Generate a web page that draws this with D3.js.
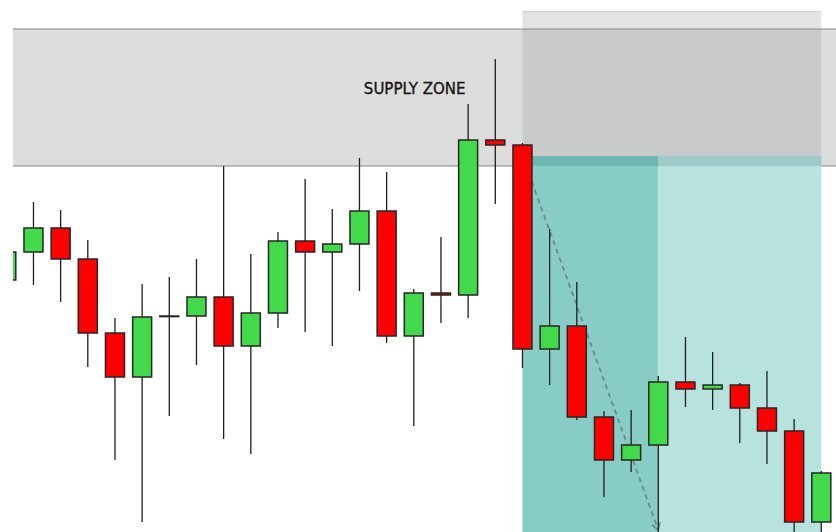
<!DOCTYPE html>
<html>
<head>
<meta charset="utf-8">
<script src="https://cdn.jsdelivr.net/npm/d3@7"></script>
<style>
  html, body { margin: 0; padding: 0; background: #ffffff; }
  svg { display: block; }
</style>
</head>
<body>
<svg id="chart" width="836" height="532"></svg>
<script>
// OHLC prices, one entry per bar
const opens  = [25.2, 28.0, 30.4, 27.3, 19.9, 15.5, 21.6, 21.6, 23.5, 18.6, 21.9, 29.1, 28.0, 28.8, 32.1, 19.6, 23.9, 23.7, 39.2, 38.7, 18.3, 20.6, 11.5, 7.2, 8.7, 15.0, 14.3, 14.7, 12.4, 10.1, 1.0];
const highs  = [29.0, 33.0, 32.2, 29.2, 21.4, 24.8, 25.5, 27.3, 36.6, 27.8, 30.0, 35.3, 32.3, 37.4, 36.0, 24.3, 29.5, 42.8, 47.3, 38.9, 30.3, 25.0, 12.1, 12.2, 15.6, 19.5, 18.0, 14.9, 16.1, 11.3, 6.1];
const lows   = [24.5, 24.7, 23.0, 16.5, 7.2, 1.0, 11.6, 16.7, 9.3, 7.8, 20.4, 20.0, 18.6, 24.1, 18.9, 10.6, 20.9, 21.4, 32.8, 16.4, 14.7, 11.2, 3.5, 6.0, -1.0, 12.5, 12.2, 8.9, 6.8, -1.0, -1.0];
const closes = [28.0, 30.4, 27.3, 19.9, 15.5, 21.5, 21.6, 23.5, 18.6, 21.9, 29.1, 28.0, 28.8, 32.1, 19.6, 23.9, 23.7, 39.2, 38.7, 18.3, 20.6, 11.5, 7.2, 8.7, 15.0, 14.3, 14.7, 12.4, 10.1, 1.0, 5.9];

// Supply zone price band and its label
const supplyZone = [36.6, 50.3];
const supplyLabel = "SUPPLY ZONE";

// Short-position tool: entry bar, target bar, end bar and its price levels
const positionBars = [19, 24, 30];
const stopLevel = 52.1;
const entryLevel = 37.6;
const targetLevel = 0.2;

const W = 836, H = 532;
const svg = d3.select("#chart");

const x = d3.scaleLinear().domain([0, 30]).range([6.3, 821.3]);
const y = d3.scaleLinear().domain([0, 53.2]).range([H, 0]);
const bodyW = 19;

svg.append("defs").append("clipPath").attr("id", "plot")
  .append("rect").attr("x", 13).attr("y", 0).attr("width", W - 13).attr("height", H);

const g = svg.append("g").attr("clip-path", "url(#plot)");

// Supply zone band
const zTop = y(supplyZone[1]), zBot = y(supplyZone[0]);
g.append("rect")
  .attr("x", 13).attr("y", zTop).attr("width", W - 13).attr("height", zBot - zTop)
  .attr("fill", "#dddddd");
g.append("line").attr("x1", 13).attr("x2", W).attr("y1", zTop).attr("y2", zTop)
  .attr("stroke", "#858585").attr("stroke-width", 1);
g.append("line").attr("x1", 13).attr("x2", W).attr("y1", zBot).attr("y2", zBot)
  .attr("stroke", "#858585").attr("stroke-width", 1);

// Target (profit) area of the position tool
const xE = x(positionBars[0]), xT = x(positionBars[1]), xEnd = x(positionBars[2]);
const yEntry = y(entryLevel);
g.append("rect").attr("x", xE).attr("y", yEntry).attr("width", xT - xE).attr("height", H - yEntry)
  .attr("fill", "#87cdc6");
g.append("rect").attr("x", xT).attr("y", yEntry).attr("width", xEnd - xT).attr("height", H - yEntry)
  .attr("fill", "#b8e2de");
// part of the target area overlapping the supply band
g.append("rect").attr("x", xE).attr("y", yEntry).attr("width", xT - xE).attr("height", zBot - yEntry)
  .attr("fill", "#6db8b2");
g.append("rect").attr("x", xT).attr("y", yEntry).attr("width", xEnd - xT).attr("height", zBot - yEntry)
  .attr("fill", "#9ecbc8");

// Stop (risk) area of the position tool
const yStop = y(stopLevel);
g.append("rect").attr("x", xE).attr("y", yStop).attr("width", xEnd - xE).attr("height", yEntry - yStop)
  .attr("fill", "rgba(148,150,158,0.27)");
g.append("line").attr("x1", xE).attr("x2", xEnd).attr("y1", yStop + 0.5).attr("y2", yStop + 0.5)
  .attr("stroke", "rgba(150,150,160,0.25)");

// Projected move: dashed arrow from entry to target
const ax1 = xE, ay1 = yEntry, ax2 = xT, ay2 = y(targetLevel);
const arrowColor = "rgba(105,120,125,0.8)";
g.append("line").attr("x1", ax1).attr("y1", ay1).attr("x2", ax2).attr("y2", ay2)
  .attr("stroke", arrowColor).attr("stroke-width", 1.8)
  .attr("stroke-dasharray", "5,4");
const ang = Math.atan2(ay2 - ay1, ax2 - ax1);
const headLen = 8, spread = 0.55;
const head = d3.path();
head.moveTo(ax2 - headLen * Math.cos(ang - spread), ay2 - headLen * Math.sin(ang - spread));
head.lineTo(ax2, ay2);
head.lineTo(ax2 - headLen * Math.cos(ang + spread), ay2 - headLen * Math.sin(ang + spread));
g.append("path").attr("d", head.toString()).attr("fill", "none")
  .attr("stroke", arrowColor).attr("stroke-width", 1.8);

// Candles
const bars = opens.map((o, i) => ({ i, o, h: highs[i], l: lows[i], c: closes[i] }));
const candle = g.selectAll("g.candle").data(bars).join("g").attr("class", "candle");

candle.append("line")
  .attr("x1", d => x(d.i)).attr("x2", d => x(d.i))
  .attr("y1", d => y(d.h)).attr("y2", d => y(d.l))
  .attr("stroke", "#1e1e1e").attr("stroke-width", 1.3);

candle.append("rect")
  .attr("x", d => x(d.i) - bodyW / 2)
  .attr("y", d => y(Math.max(d.o, d.c)))
  .attr("width", bodyW)
  .attr("height", d => Math.max(Math.abs(y(d.o) - y(d.c)), 0.6))
  .attr("fill", d => d.c > d.o ? "#42d94a" : d.c < d.o ? "#ff0000" : "#1e1e1e")
  .attr("stroke", "#262626").attr("stroke-width", 1.5);

// Zone label
svg.append("text")
  .attr("x", 414.7).attr("y", 94.3)
  .attr("text-anchor", "middle")
  .attr("font-family", "'DejaVu Sans', sans-serif")
  .attr("font-size", 15)
  .attr("fill", "#161616")
  .attr("stroke", "#161616").attr("stroke-width", 0.35)
  .text(supplyLabel);
</script>
</body>
</html>
